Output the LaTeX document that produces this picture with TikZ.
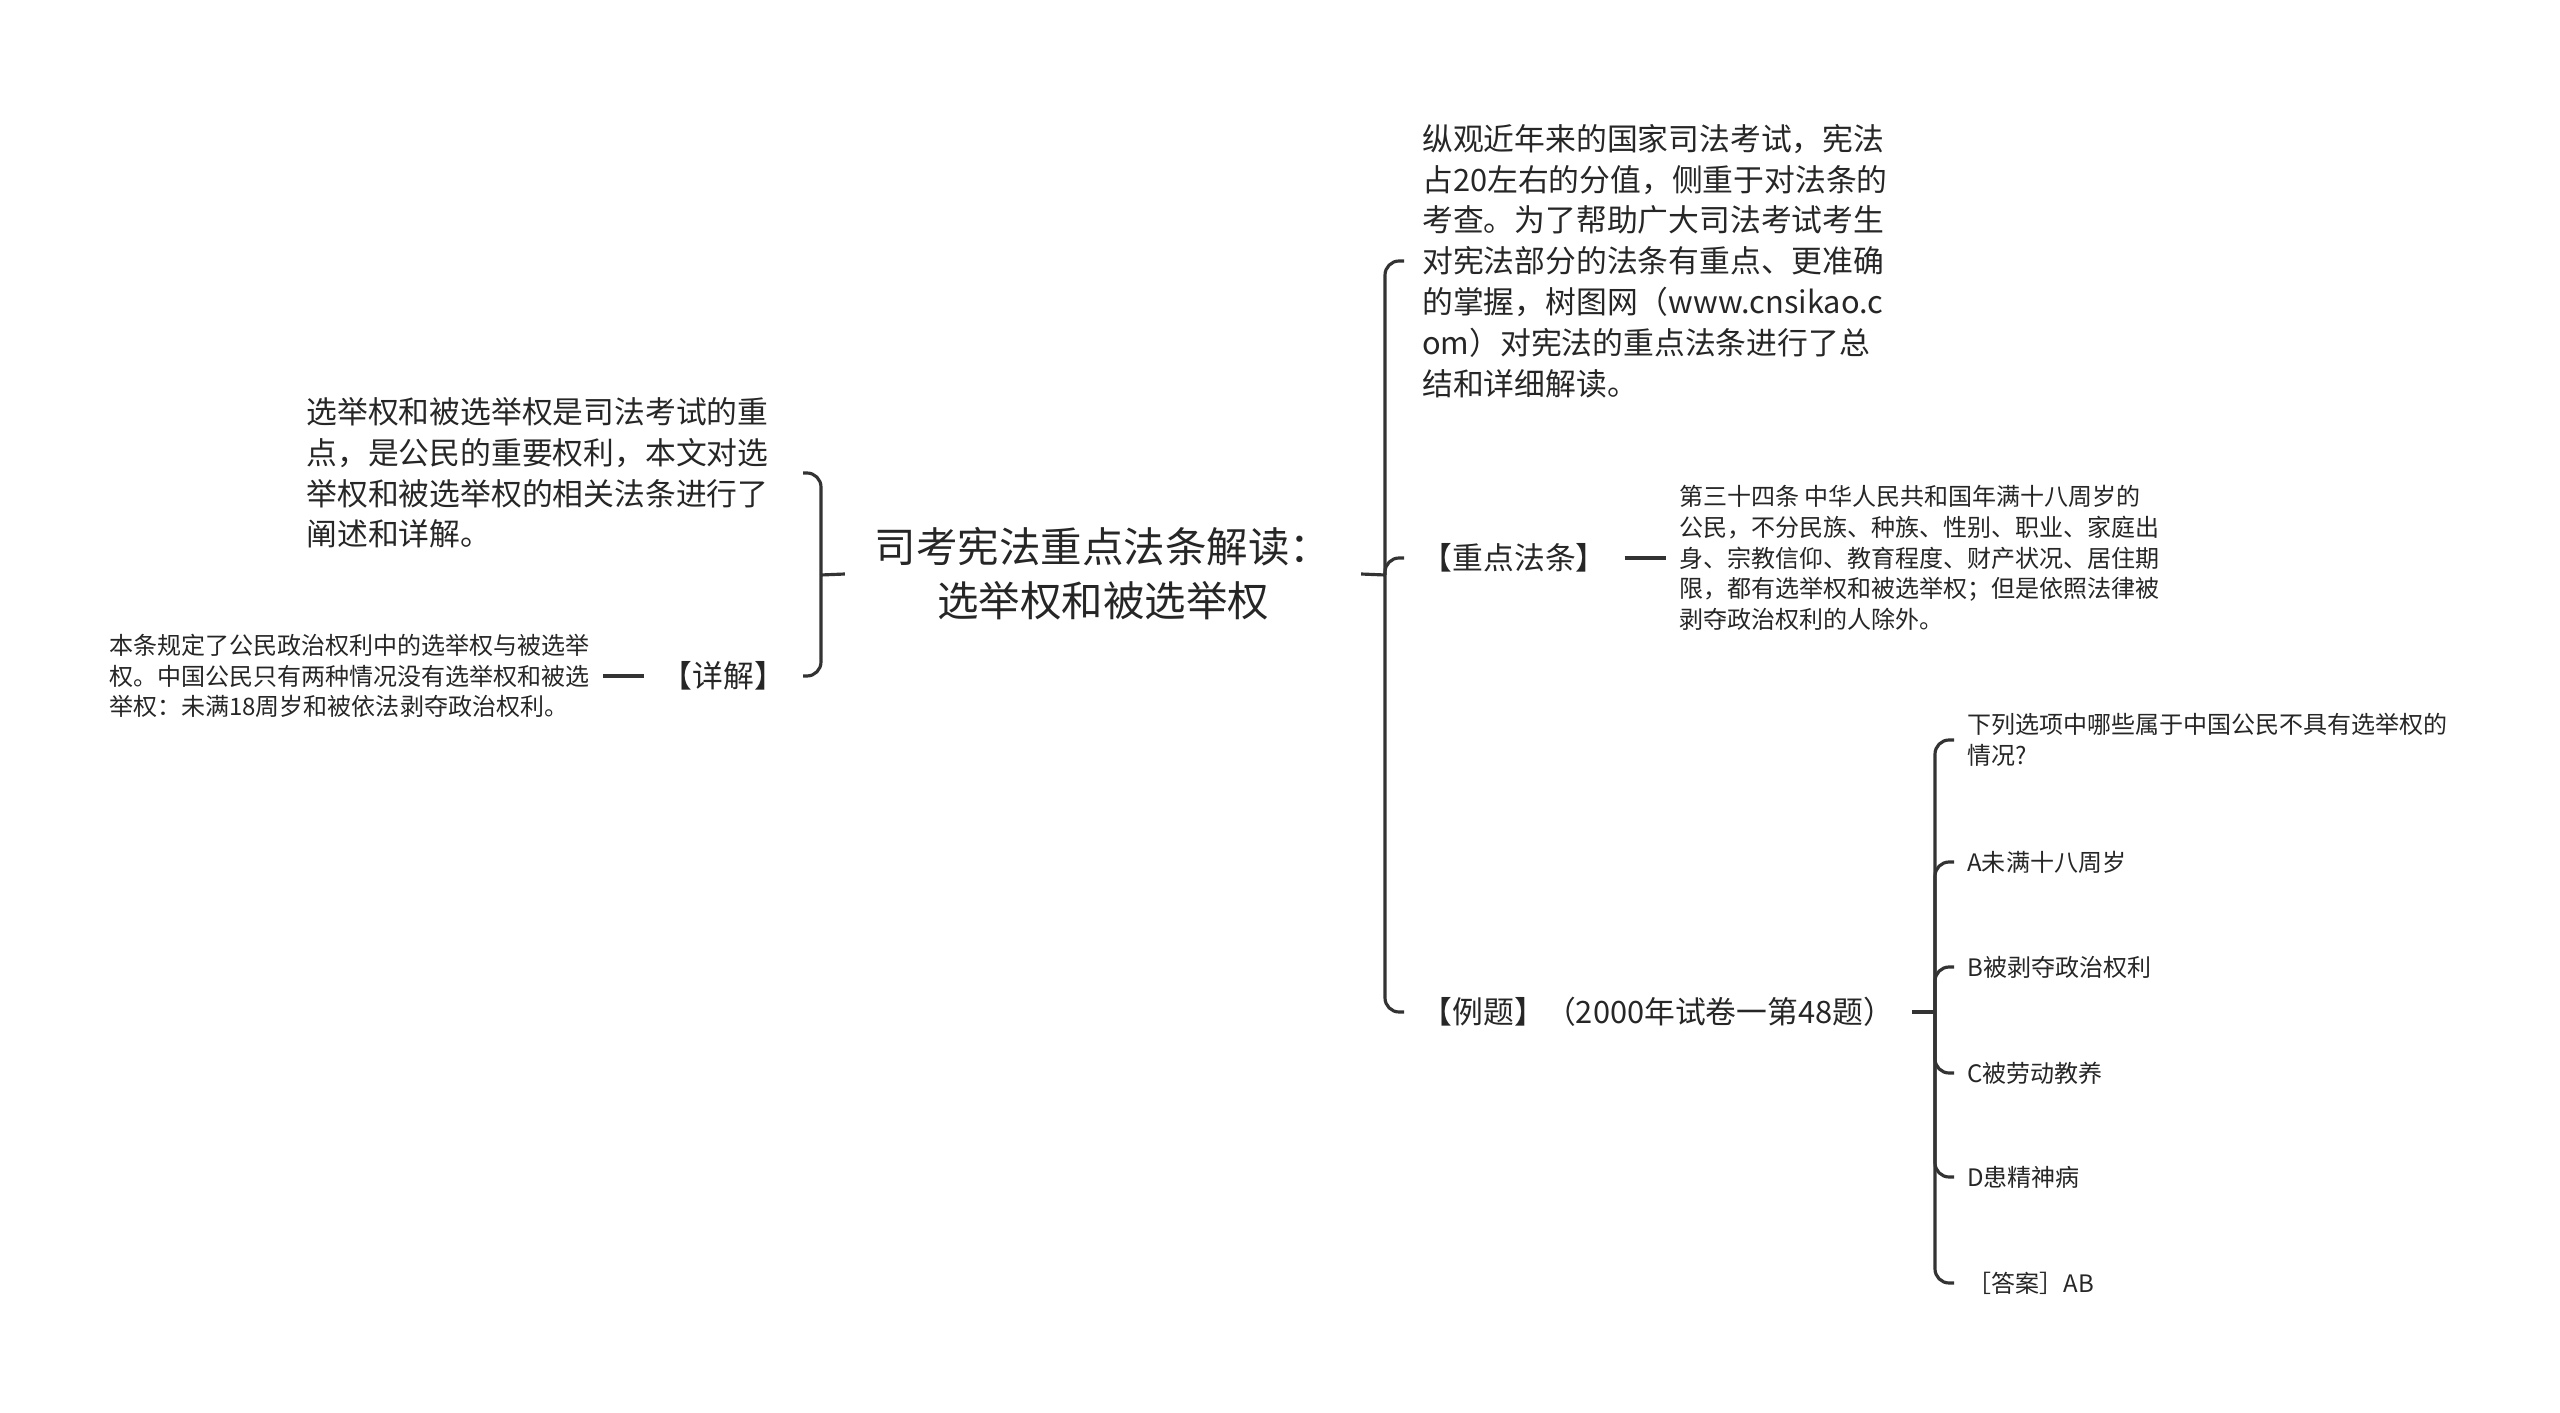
\documentclass[tikz,border=0pt]{standalone}
\usepackage{fontspec}
\setmainfont{Noto Sans CJK SC}
\usetikzlibrary{positioning}
\begin{document}
\begin{tikzpicture}[x=0.01cm, y=-0.01cm,
        radice/.style={font=\fontsize{11.8}{15.4}\selectfont, align=center, inner xsep=8.3pt, inner ysep=2pt, text=black!85},
        paragrafo/.style={font=\fontsize{8.76}{11.6}\selectfont, align=left, text width=4.78cm, inner xsep=5pt, inner ysep=0pt, text=black!85},
        etichetta/.style={font=\fontsize{8.76}{11.6}\selectfont, inner xsep=4.9pt, inner ysep=0pt, text=black!85},
        dettaglio/.style={font=\fontsize{6.83}{8.7}\selectfont, align=left, inner xsep=3.6pt, inner ysep=0pt, text=black!85},
        ramo/.style={draw=black!80, line width=0.9pt, rounded corners=4pt}]
        \useasboundingbox (0,0) rectangle (2560,1413);

        % ===== RADICE =====
        \node[radice] (radice) at (1103,574) {司考宪法重点法条解读：\\选举权和被选举权};

        % ===== LATO SINISTRO =====
        \coordinate (nodoS) at (821,575);
        \node[paragrafo, anchor=east] (premessa) at (803,473)
            {选举权和被选举权是司法考试的重\\点，是公民的重要权利，本文对选\\举权和被选举权的相关法条进行了\\阐述和详解。};
        \node[etichetta, anchor=east] (xiangjie) at (803,676) {【详解】};
        \node[dettaglio, left=0.41cm of xiangjie] (spiegazione)
            {本条规定了公民政治权利中的选举权与被选举\\权。中国公民只有两种情况没有选举权和被选\\举权：未满18周岁和被依法剥夺政治权利。};

        \draw[ramo] (radice.west) -- (nodoS);
        \draw[ramo] (nodoS) |- (premessa.east);
        \draw[ramo] (nodoS) |- (xiangjie.east);
        \draw[ramo] (xiangjie.west) -- (spiegazione.east);

        % ===== LATO DESTRO =====
        \coordinate (nodoD) at (1385,575);
        \node[paragrafo, anchor=west] (sintesi) at (1404,261)
            {纵观近年来的国家司法考试，宪法\\占20左右的分值，侧重于对法条的\\考查。为了帮助广大司法考试考生\\对宪法部分的法条有重点、更准确\\的掌握，树图网（www.cnsikao.c\\om）对宪法的重点法条进行了总\\结和详细解读。};
        \node[etichetta, anchor=west] (zhongdian) at (1404,558) {【重点法条】};
        \node[dettaglio, right=0.41cm of zhongdian] (articolo)
            {第三十四条 中华人民共和国年满十八周岁的\\公民，不分民族、种族、性别、职业、家庭出\\身、宗教信仰、教育程度、财产状况、居住期\\限，都有选举权和被选举权；但是依照法律被\\剥夺政治权利的人除外。};
        \node[etichetta, anchor=west] (liti) at (1404,1012) {【例题】（2000年试卷一第48题）};

        \draw[ramo] (radice.east) -- (nodoD);
        \draw[ramo] (nodoD) |- (sintesi.west);
        \draw[ramo] (nodoD) |- (zhongdian.west);
        \draw[ramo] (nodoD) |- (liti.west);
        \draw[ramo] (zhongdian.east) -- (articolo.west);

        % ===== ESERCIZIO =====
        \coordinate (nodoE) at (1935,1012);
        \node[dettaglio, anchor=west] (domanda) at (1954,740) {下列选项中哪些属于中国公民不具有选举权的\\情况?};
        \draw[ramo] (liti.east) -- (nodoE);
        \draw[ramo] (nodoE) |- (domanda.west);
        \foreach \nome/\y/\testo in {a/862/A未满十八周岁, b/967/B被剥夺政治权利, c/1073/C被劳动教养, d/1177/D患精神病, risposta/1283/［答案］AB} {
            \node[dettaglio, anchor=west] (opz-\nome) at (1954,\y) {\testo};
            \draw[ramo] (nodoE) |- (opz-\nome.west);
        }
\end{tikzpicture}
\end{document}
